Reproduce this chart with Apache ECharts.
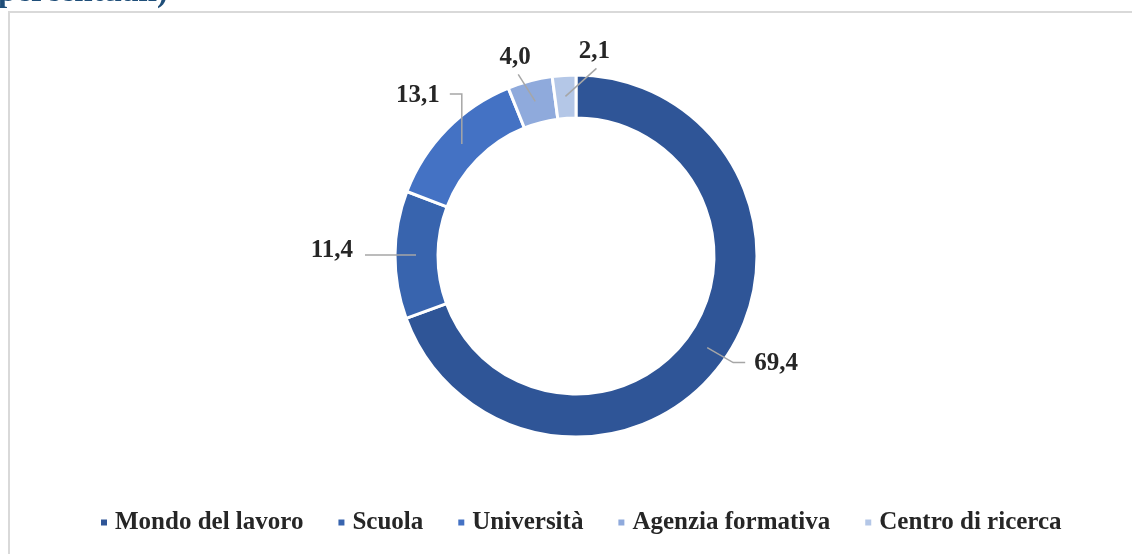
<!DOCTYPE html>
<html>
<head>
<meta charset="utf-8">
<title>Donut</title>
<script src="https://cdn.jsdelivr.net/npm/echarts@6/dist/echarts.min.js"></script>
<style>
  html, body { margin: 0; padding: 0; background: #fff; }
</style>
</head>
<body>
<div id="main" style="width: 1132px; height: 554px;"></div>
<script type="text/javascript">
// categorie e valori (percentuali)
var categories = ['Mondo del lavoro', 'Scuola', 'Università', 'Agenzia formativa', 'Centro di ricerca'];
var values = [69.4, 11.4, 13.1, 4.0, 2.1];
var colors = ['#2F5597', '#3864AE', '#4472C4', '#8FAADC', '#B4C7E7'];

var FONT = '"Liberation Serif", "DejaVu Serif", serif';
var CENTER = [576, 256];
var RADIUS = [138, 181];
var R_MID = 160; // le linee guida partono dentro l'anello, come in Excel

// forma delle linee guida (relativa al punto di partenza): gomito, fine, ancoraggio etichetta
var guides = [
	{ elbow: [26, 15], end: [38, 15], label: [9, 1], align: 'left', va: 'middle' },
	{ elbow: [-36, 0], end: [-51, 0], label: [-12, -4], align: 'right', va: 'middle' },
	{ elbow: [0, -50], end: [-12, -50], label: [-10, 2], align: 'right', va: 'middle' },
	{ elbow: [-17, -27], end: [-17, -27], label: [-3, -4], align: 'center', va: 'bottom' },
	{ elbow: [31, -28], end: [31, -28], label: [-2, -4], align: 'center', va: 'bottom' }
];

var total = values.reduce(function (a, b) { return a + b; }, 0);
var midAngles = [];
var acc = 0;
values.forEach(function (v) {
	midAngles.push((acc + v / 2) / total * Math.PI * 2);
	acc += v;
});

var myChart = echarts.init(document.getElementById('main'));

var pieData = categories.map(function (name, i) {
	return { name: name, value: values[i], itemStyle: { color: colors[i] } };
});
// stessa serie, trasparente, solo per disegnare etichette e linee sopra l'anello
var labelData = categories.map(function (name, i) {
	return { name: name, value: values[i] };
});

myChart.setOption({
	backgroundColor: '#fff',
	animation: false,
	graphic: [
		{
			type: 'rect',
			shape: { x: 9, y: 12, width: 1300, height: 700 },
			style: { fill: 'none', stroke: '#D9D9D9', lineWidth: 2 },
			silent: true
		},
		{
			type: 'text',
			x: -2,
			y: 9,
			silent: true,
			style: {
				text: 'percentuali)',
				font: 'bold 33px ' + FONT,
				fill: '#1F4E79',
				verticalAlign: 'bottom'
			}
		}
	],
	legend: {
		data: categories,
		left: 94,
		top: 505,
		icon: 'rect',
		itemWidth: 8,
		itemHeight: 8,
		itemGap: 33,
		textStyle: {
			fontFamily: FONT,
			fontWeight: 'bold',
			fontSize: 25,
			color: '#262626',
			padding: [0, 0, 0, 2]
		}
	},
	series: [{
		type: 'pie',
		z: 2,
		center: CENTER,
		radius: RADIUS,
		startAngle: 90,
		clockwise: true,
		itemStyle: { borderColor: '#fff', borderWidth: 3 },
		label: { show: false },
		labelLine: { show: false },
		emphasis: { disabled: true },
		data: pieData
	}, {
		type: 'pie',
		z: 5,
		silent: true,
		center: CENTER,
		radius: RADIUS,
		startAngle: 90,
		clockwise: true,
		avoidLabelOverlap: false,
		itemStyle: { color: 'rgba(0,0,0,0)', borderWidth: 0 },
		label: {
			show: true,
			position: 'outside',
			fontFamily: FONT,
			fontWeight: 'bold',
			fontSize: 25,
			color: '#262626',
			formatter: function (p) {
				return p.value.toFixed(1).replace('.', ',');
			}
		},
		labelLine: {
			show: true,
			showAbove: true,
			length: 15,
			length2: 12,
			lineStyle: { color: '#A6A6A6', width: 1.5 }
		},
		labelLayout: function (params) {
			var i = params.dataIndex;
			var g = guides[i];
			var a = midAngles[i];
			var sx = CENTER[0] + R_MID * Math.sin(a);
			var sy = CENTER[1] - R_MID * Math.cos(a);
			var ex = sx + g.end[0], ey = sy + g.end[1];
			return {
				x: ex + g.label[0],
				y: ey + g.label[1],
				align: g.align,
				verticalAlign: g.va,
				labelLinePoints: [[sx, sy], [sx + g.elbow[0], sy + g.elbow[1]], [ex, ey]]
			};
		},
		emphasis: { disabled: true },
		data: labelData
	}]
});
</script>
</body>
</html>
